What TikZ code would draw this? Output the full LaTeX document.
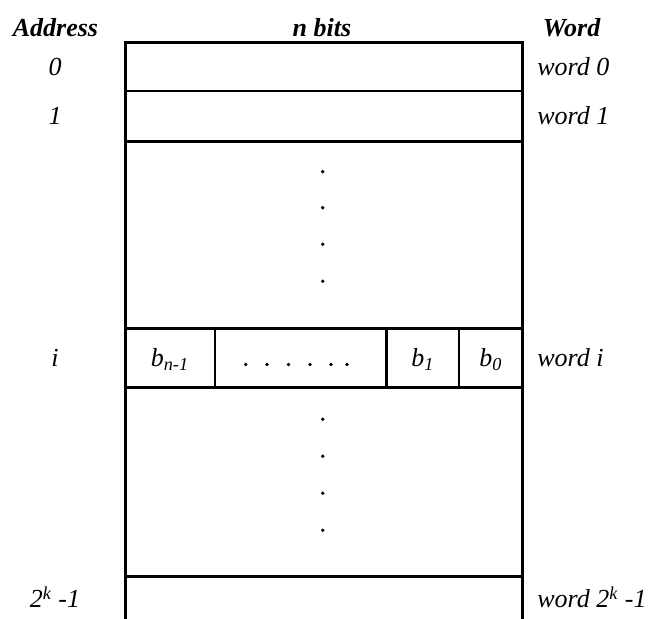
\documentclass[tikz,border=0pt]{standalone}
\usepackage{fontspec}
\setmainfont{Liberation Serif}

\begin{document}
\begin{tikzpicture}[x=0.5pt,y=-0.5pt,line width=1.3pt,font=\fontsize{13}{15}\selectfont\itshape]
    \tikzstyle{head}=[anchor=base,font=\fontsize{13}{15}\selectfont\bfseries\itshape]
    \tikzstyle{addr}=[anchor=base,inner sep=0pt]
    \tikzstyle{wlabel}=[anchor=base west,inner sep=0pt]
    \tikzstyle{bit}=[anchor=base,inner sep=0pt]
    \tikzstyle{dot}=[circle,fill,inner sep=0pt,minimum size=1.9pt]
    \useasboundingbox (0,0) rectangle (648,619);
    % outline of the memory, cut at the bottom
    \coordinate (tl) at (125.7,42.7);
    \coordinate (tr) at (522.7,42.7);
    \coordinate (bl) at (125.7,619);
    \coordinate (br) at (522.7,619);
    \draw (bl) -- (tl) -- (tr) -- (br);
    \foreach \y in {91,141.7,328.3,387.3,576.7}
      \draw (tl |- 0,\y) -- (tr |- 0,\y);
    \foreach \x in {215,386.7,459}
      \draw (\x,328.3) -- (\x,387.3);
    % headers
    \node[head] (hAddr) at (55.5,37) {Address};
    \node[head] (hBits) at (322,37) {n bits};
    \node[head,anchor=base west] (hWord) at (535,37) {Word};
    % addresses and words
    \node[addr] (a0) at (55,75.5) {0};
    \node[addr] (a1) at (55,125) {1};
    \node[addr] (ai) at (55,366.4) {i};
    \node[addr] (ak) at (55,608) {2\textsuperscript{k} -1};
    \node[wlabel] (w0) at (536,75.5) {word 0};
    \node[wlabel] (w1) at (536,125) {word 1};
    \node[wlabel] (wi) at (536,366.4) {word i};
    \node[wlabel] (wk) at (536,608) {word 2\textsuperscript{k} -1};
    % bits of word i
    \node[bit] (bn) at (170,366.4) {b\textsubscript{n-1}};
    \node[bit] (b1) at (423,366.4) {b\textsubscript{1}};
    \node[bit] (b0) at (491,366.4) {b\textsubscript{0}};
    \foreach \x [count=\i] in {245.7,267,288.5,310,331,347}
      \node[dot] (hd\i) at (\x,364.5) {};
    % skipped words
    \foreach \y [count=\i] in {171.7,207.7,244.3,281.3}
      \node[dot] (up\i) at (322.7,\y) {};
    \foreach \y [count=\i] in {419.3,456.3,493.3,530.3}
      \node[dot] (lo\i) at (322.7,\y) {};
  \end{tikzpicture}
\end{document}
